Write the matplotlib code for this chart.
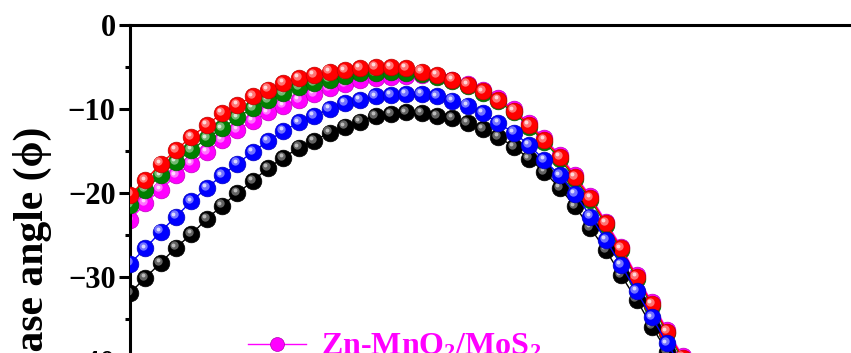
import numpy as np
import matplotlib
matplotlib.use("Agg")
import matplotlib.pyplot as plt
from matplotlib.lines import Line2D
from matplotlib.transforms import offset_copy
from matplotlib.colors import to_rgb

plt.rcParams["font.family"] = ["Liberation Serif", "DejaVu Serif"]
plt.rcParams["font.weight"] = "bold"
plt.rcParams["mathtext.fontset"] = "custom"
plt.rcParams["mathtext.rm"] = "Liberation Serif:bold"
plt.rcParams["mathtext.default"] = "rm"

# --- data (log10 frequency grid, phase angle in degrees) ---
log_f = [-1.0, -0.9, -0.8, -0.7, -0.6, -0.5, -0.4, -0.3, -0.2, -0.1,
         0.0, 0.1, 0.2, 0.3, 0.4, 0.5, 0.6, 0.7, 0.8, 0.9,
         1.0, 1.1, 1.2, 1.3, 1.4, 1.5, 1.6, 1.7, 1.8, 1.9,
         2.0, 2.1, 2.2, 2.3, 2.4, 2.5, 2.6]

phase_black = [-31.9, -30.1, -28.3, -26.5, -24.9, -23.1, -21.5, -20.0, -18.6, -17.0,
               -15.8, -14.6, -13.8, -12.8, -12.1, -11.5, -10.8, -10.6, -10.4, -10.5,
               -10.8, -11.1, -11.7, -12.4, -13.3, -14.5, -15.9, -17.5, -19.4, -21.6,
               -24.2, -26.8, -29.8, -32.7, -35.9, -38.9, -42.0]
phase_blue = [-28.4, -26.6, -24.6, -22.8, -21.0, -19.4, -17.9, -16.5, -15.1, -13.8,
              -12.6, -11.6, -10.8, -10.0, -9.3, -8.9, -8.5, -8.3, -8.2, -8.2,
              -8.5, -9.0, -9.6, -10.5, -11.7, -12.8, -14.3, -16.1, -17.9, -20.1,
              -22.8, -25.6, -28.6, -31.7, -34.8, -37.9, -41.0]
phase_magenta = [-23.2, -21.2, -19.6, -17.9, -16.5, -15.1, -13.7, -12.5, -11.4, -10.4,
                 -9.6, -8.9, -8.2, -7.5, -7.0, -6.5, -6.3, -6.2, -6.1, -5.9,
                 -6.1, -6.5, -7.0, -7.7, -8.7, -10.0, -11.7, -13.5, -15.5, -17.9,
                 -20.4, -23.4, -26.4, -29.8, -33.0, -36.3, -39.4]
phase_green = [-21.4, -19.6, -17.9, -16.3, -14.9, -13.5, -12.3, -11.0, -9.9, -8.9,
               -8.1, -7.4, -6.9, -6.5, -6.1, -5.75, -5.7, -5.6, -5.7, -5.8,
               -6.2, -6.7, -7.3, -8.1, -9.1, -10.4, -12.1, -13.9, -15.9, -18.3,
               -20.8, -23.8, -26.8, -30.2, -33.4, -36.7, -39.8]
phase_red = [-20.2, -18.5, -16.5, -14.9, -13.3, -11.9, -10.5, -9.5, -8.5, -7.7,
             -6.9, -6.3, -5.95, -5.55, -5.4, -5.1, -5.0, -5.0, -5.1, -5.55,
             -5.95, -6.5, -7.1, -7.9, -8.9, -10.2, -11.9, -13.7, -15.7, -18.1,
             -20.6, -23.6, -26.6, -30.0, -33.2, -36.5, -39.6]

legend_label = "Zn-MnO$_2$/MoS$_2$"

W, H = 851, 353
fig = plt.figure(figsize=(W / 100, H / 100), dpi=100)
# axes runs past the bottom/right edge of the picture (cropped figure)
ax = fig.add_axes([129.5 / W, 1 - 445 / H, 768 / W, 420 / H])


def mix(c, w, t):
    c = np.array(to_rgb(c))
    return tuple(c * (1 - t) + np.array(to_rgb(w)) * t)


def balls(y, color, z, hl="white"):
    ax.plot(log_f, y, "-o", color=color, lw=1, ms=12,
            mec=mix(color, "black", 0.25), mew=0.5, zorder=z)
    tr1 = offset_copy(ax.transData, fig=fig, x=-2.2, y=2.2, units="dots")
    tr2 = offset_copy(ax.transData, fig=fig, x=-2.8, y=2.8, units="dots")
    ax.plot(log_f, y, "o", ls="none", ms=6, mew=0, color=mix(color, hl, 0.45),
            transform=tr1, zorder=z + 0.1)
    ax.plot(log_f, y, "o", ls="none", ms=2.8, mew=0, color=mix(color, hl, 0.85),
            transform=tr2, zorder=z + 0.2)


balls(phase_magenta, "#FF00FF", 2)
balls(phase_green, "#007F00", 3)
balls(phase_red, "#FF0000", 4)
balls(phase_black, "#000000", 5, hl="#dddddd")
balls(phase_blue, "#0000FF", 6)

ax.set_xlim(-1.003, 4.0)
ax.set_ylim(-50, 0)
ax.set_yticks([-50, -40, -30, -20, -10, 0])
ax.set_yticks(np.arange(-45, 0, 5), minor=True)
ax.set_xticks([])
ax.tick_params(axis="y", which="major", direction="out", length=8, width=2.2,
               labelsize=22, pad=2)
ax.tick_params(axis="y", which="minor", direction="out", length=3.8, width=2.2)
for lab in ax.get_yticklabels():
    lab.set_fontweight("bold")
for s in ["left", "top", "bottom", "right"]:
    ax.spines[s].set_linewidth(2.2)

fig.text(32 / W, 1 - 127 / H, "Phase angle (ϕ)", rotation=90, ha="center",
         va="top", fontsize=30, fontweight="bold",
         family=["Liberation Serif", "DejaVu Serif"])

handle = Line2D([], [], color="#FF00FF", lw=1, marker="o", ms=10,
                mec="#B000B0", mew=0.5)
fig.legend([handle], [legend_label], loc="center left",
           bbox_to_anchor=(248 / W, 1 - 347 / H), frameon=False,
           borderpad=0, borderaxespad=0, handlelength=1.8, handletextpad=0.5,
           labelcolor="#FF00FF",
           prop={"family": "Liberation Serif", "weight": "bold", "size": 23})

fig.savefig("out.png", dpi=100)
